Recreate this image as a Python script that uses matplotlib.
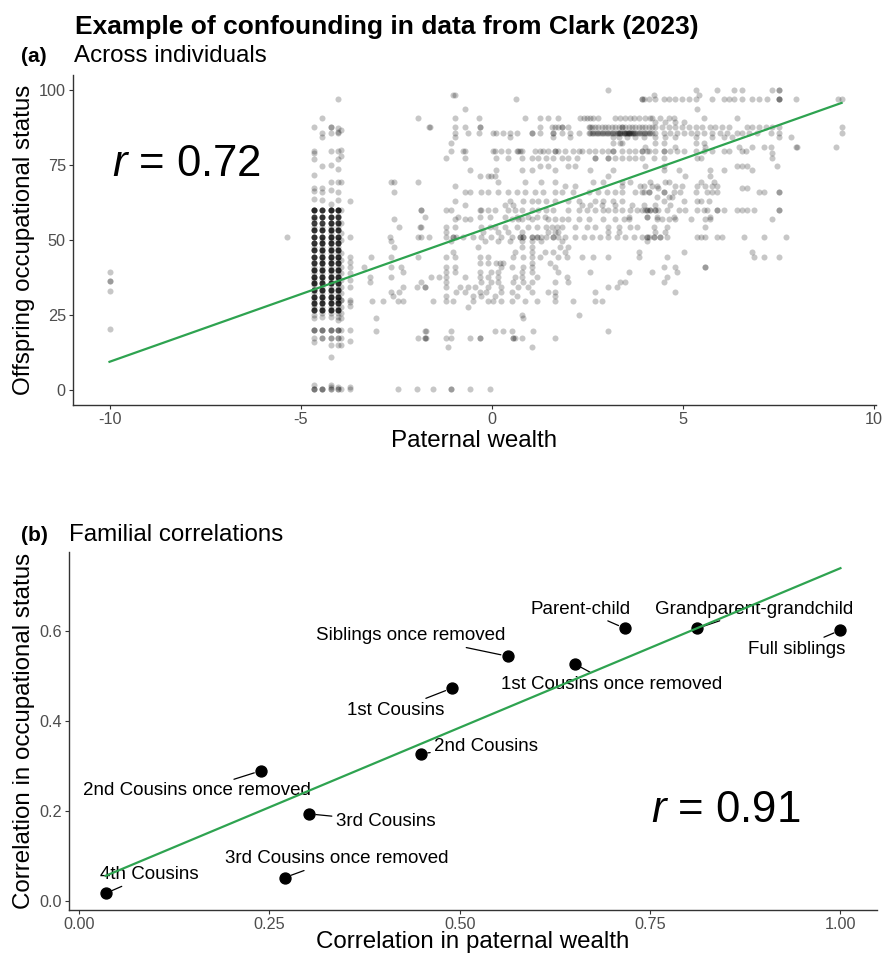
import numpy as np
import matplotlib
matplotlib.use('Agg')
import matplotlib.pyplot as plt

plt.rcParams['font.family'] = ['Liberation Sans', 'DejaVu Sans']
plt.rcParams['axes.unicode_minus'] = False
plt.rcParams['mathtext.fontset'] = 'custom'
plt.rcParams['mathtext.it'] = 'Liberation Sans:italic'
plt.rcParams['mathtext.rm'] = 'Liberation Sans'

# ---- (a) individuals: paternal wealth values, grouped by offspring status level ----
w100 = [3.05, 5.33, 5.90, 6.33, 6.55, 7.34, 7.51, 7.51]
w98 = [-1.02, -0.95, 4.23, 5.41]
w97 = [0.63, 3.93, 3.97, 3.93, 4.10, 4.28, 4.50, 4.63, 4.80, 4.98, 5.15, 5.33, 5.76, 6.07,
       6.20, 6.33, 6.55, 6.81, 6.99, 7.21, 7.51, 7.51, 7.51, 7.95, 9.05, 9.15]
w94 = [-0.71, 5.37]
w91 = [-1.93, -0.97, -0.34, 0.88, 1.26, 1.48, 1.72, 2.31, 2.40, 2.48, 2.57, 2.66, 2.79, 3.23,
       3.36, 3.49, 3.62, 3.71, 3.84, 4.01, 4.15, 4.19, 4.41, 4.63, 4.76, 5.55, 6.42]
w89 = [4.28, 4.54, 4.80, 5.02]
w88 = [-1.63, -1.61, -0.97, -0.71, -0.32, -0.32, 1.26, 1.57, 1.65, 1.74, 1.83, 1.83, 2.00,
       2.53, 2.57, 2.62, 2.70, 2.79, 2.88, 2.97, 3.05, 3.14, 3.23, 3.32, 3.40, 3.40, 3.49,
       3.58, 3.66, 3.75, 3.84, 3.93, 4.02, 4.10, 4.19, 4.28, 4.45, 4.63, 4.80, 4.98, 5.15,
       5.33, 5.50, 5.72, 5.85, 6.03, 6.20, 6.68, 6.81, 6.99, 7.16, 7.34, 7.51, 9.15]
w86 = [-0.97, -0.62, -0.34, 0.03, 0.12, 0.30, 0.47, 0.65, 1.04, 1.04, 1.26, 1.61, 1.61, 1.83,
       2.05, 2.27, 2.53, 2.57, 2.62, 2.66, 2.70, 2.75, 2.79, 2.83, 2.88, 2.92, 2.97, 3.01,
       3.05, 3.10, 3.14, 3.18, 3.23, 3.27, 3.32, 3.36, 3.40, 3.45, 3.49, 3.53, 3.58, 3.62,
       3.66, 3.71, 3.75, 3.80, 3.84, 3.88, 3.93, 3.97, 4.02, 4.06, 4.10, 4.15, 4.19, 3.30,
       3.35, 3.45, 3.50, 3.55, 3.60, 3.65, 3.70, 4.28, 4.50, 4.67, 4.85, 5.02, 5.20, 5.37,
       5.55, 5.76, 5.98, 6.16, 6.42, 6.55, 6.73, 6.94, 7.30, 7.51, 9.15]
w84 = [-0.97, 0.47, 1.61, 2.05, 3.18, 3.32, 3.53, 3.75, 3.97, 4.28, 4.54, 4.80, 5.33, 5.76,
       6.07, 6.29, 7.51, 7.82]
w82 = [-1.06, 3.18, 3.36, 3.40, 4.28, 4.50, 5.33, 5.55]
w81 = [4.01, 4.80, 5.59, 6.46, 6.81, 7.12, 7.30, 7.95, 7.99, 9.00]
w80 = [-1.06, -0.75, -0.71, 0.03, 0.08, 0.25, 0.43, 0.65, 0.69, 0.73, 0.78, 1.13, 1.26, 1.35,
       1.48, 1.65, 1.65, 1.74, 1.91, 2.13, 2.27, 2.35, 2.53, 2.70, 2.88, 3.05, 3.18, 3.18,
       3.40, 3.58, 3.75, 3.93, 4.10, 3.93, 4.06, 4.28, 4.50, 4.50, 4.67, 4.85, 5.02, 5.33,
       5.55, 5.76, 6.07, 6.20, 6.55, 6.64]
w79 = [7.34]
w77 = [-1.19, -0.71, 0.12, 0.43, 0.78, 1.04, 1.22, 1.43, 1.61, 1.83, 2.00, 2.22, 2.70, 2.70,
       3.05, 3.05, 3.23, 3.40, 3.58, 3.75, 3.93, 4.23, 4.50, 5.37, 5.46, 7.34]
w75 = [1.26, 1.48, 2.00, 2.18, 4.01, 4.50, 6.42, 6.55, 6.68, 7.47]
w73 = [-0.58, 0.12, 0.78, 1.04, 1.65, 2.57, 3.18, 4.50, 4.89, 5.72, 6.07, 6.81]
w71 = [-0.32, -0.10, -0.01, 0.08, 3.05, 5.06, 5.72]
w69 = [-2.63, -2.57, -1.93, 0.17, 0.87, 1.30, 1.65, 2.66, 2.92, 3.40, 3.62, 4.15, 4.54, 4.63,
       5.46, 5.81]
w68 = [-0.97, 1.91, 2.18, 3.40, 3.88, 3.97, 4.19, 4.32, 4.80, 4.98, 5.37, 5.59, 5.76, 5.90]
w67 = [4.36, 6.55, 6.68]
w66 = [-2.56, -0.71, -0.56, -0.27, -0.10, 0.17, 0.43, 0.65, 0.87, 1.13, 1.35, 1.65, 1.83,
       2.13, 2.53, 2.79, 3.01, 3.23, 3.40, 3.75, 3.97, 4.10, 3.93, 4.10, 4.50, 4.50, 4.76,
       4.93, 5.33, 5.63, 5.76, 5.90, 6.99, 7.12, 7.51, 7.51]
w64 = [4.32, 4.63, 4.71]
w63 = [-0.97, 0.47, 0.82, 1.04, 1.22, 1.43, 1.65, 2.00, 2.27, 2.70, 2.92, 3.18, 3.40, 4.50,
       5.02, 5.37, 5.46, 5.68]
w62 = [-0.71, 0.34, 0.56, 2.35, 2.57, 2.88, 3.23, 3.66, 3.97, 4.28, 4.67]
w60 = [-1.85, -1.85, -1.19, -1.06, -0.32, -0.27, -0.10, 0.08, 0.43, 0.60, 0.78, 1.04, 1.22,
       1.43, 1.61, 2.00, 2.27, 2.48, 2.70, 2.92, 3.05, 3.23, 3.40, 3.62, 3.80, 4.02, 4.15,
       3.93, 4.06, 4.06, 4.15, 4.28, 4.28, 4.36, 4.58, 4.89, 5.06, 5.37, 5.55, 5.63, 5.90,
       5.90, 6.07, 6.42, 6.55, 6.68, 6.86, 7.51, 7.51]
w58 = [-1.76, -0.88, -0.32, -0.05, 0.34, 0.65, 0.95, 1.17, 1.39, 3.58, 4.06, 4.06, 4.32, 4.76,
       5.72]
w57 = [-2.57, -0.97, -0.71, -0.56, 0.52, 0.69, 0.78, 1.04, 1.48, 1.65, 1.83, 2.00, 2.27, 2.53,
       2.92, 3.23, 3.45, 3.58, 4.32, 4.45, 4.63, 4.80, 5.20, 5.59, 5.72, 7.34]
w54 = [-2.42, -1.87, -1.85, -1.19, -0.97, -0.27, -0.05, 0.08, 0.34, 0.65, 0.95, 1.17, 1.43,
       1.57, 1.70, 1.83, 2.18, 2.48, 2.70, 3.05, 3.32, 3.62, 3.80, 4.23, 4.58, 5.59]
w53 = [-1.19, -0.23, 0.17, 0.43, 0.78, 1.48, 1.65, 1.74, 3.05, 3.32, 4.28, 4.54]
w51 = [-5.35, -2.65, -1.93, -1.85, -1.63, -1.19, -1.02, -1.02, -0.93, -0.75, -0.49, -0.27,
       -0.01, 0.25, 0.52, 0.73, 0.73, 0.82, 0.82, 1.04, 1.04, 1.17, 1.17, 1.30, 1.43, 1.61,
       1.61, 1.74, 1.91, 2.18, 2.40, 2.62, 2.83, 3.05, 3.27, 3.49, 3.71, 3.93, 4.10, 4.06,
       4.06, 4.23, 4.23, 4.41, 4.41, 4.58, 5.37, 5.46, 5.59, 5.90, 6.03, 6.60, 7.12, 7.69]
w50 = [-2.64, -1.06, -0.18, 0.17, 0.47, 0.78, 1.04, 1.30, 1.83, 4.06]
w48 = [-2.57, -0.36, 0.78, 1.04, 1.78, 2.00]
w46 = [-1.02, 0.60, 1.04, 1.39, 1.61, 1.91, 3.84, 5.02, 6.81]
w44 = [-3.16, -2.64, -1.93, -1.19, -0.97, -0.32, -0.10, 0.56, 0.82, 1.04, 1.26, 1.74, 1.96,
       2.35, 2.66, 3.05, 3.84, 4.58, 6.86, 7.12, 7.51]
w42 = [-0.32, -0.10, 0.12, 0.21, 0.30, 1.04, 1.52]
w41 = [-3.33, -2.64, -2.37, -1.19, -0.97, 0.25, 0.52, 0.82, 1.04, 1.65, 4.50, 4.80, 5.59, 5.59]
w39 = [-2.33, -1.19, -0.97, -0.32, -0.01, 0.17, 0.78, 1.04, 1.74, 2.57, 3.58, 4.19, 4.85]
w38 = [-3.18, -2.64, -1.58, -1.37, -1.19, -0.71, -0.32, -0.10, 0.17, 0.60, 0.78, 1.17, 1.96,
       4.58]
w36 = [-3.18, -1.85, -1.19, -0.27, -0.01, 0.17, 0.56, 0.82, 1.04, 1.65, 2.00, 3.36, 3.49, 4.50]
w34 = [-2.33, -1.95, -1.76, -1.74, -1.19, -0.84, -0.62, -0.45, -0.10, 0.25, 0.69, 0.95, 3.05,
       3.27]
w33 = [-2.64, -2.42, -0.93, -0.71, -0.32, -0.14, 0.25, 0.52, 1.04, 1.48, 1.65, 2.70, 4.80]
w31 = [-2.59, -1.19, -0.49, -0.27, 0.08, 0.65, 1.65]
w30 = [-3.14, -2.85, -2.46, -2.33, -1.54, -1.19, -1.02, -0.49, -0.10, 0.03, 0.25, 0.52, 0.87,
       1.17, 1.65, 2.13, 2.70, 2.88]
w28 = [-0.62]
w25 = [0.78, 2.27]
w24 = [-3.03, 0.82]
w20 = [-3.03, -1.74, -1.72, -1.06, 0.08, 0.30, 0.52, 1.09, 3.05]
w17 = [-1.93, -1.74, -1.74, -1.72, -1.19, -1.06, -0.56, -0.32, -0.32, 0.56, 0.56, 0.60, 0.78,
       1.65]
w14 = [-1.15, 1.04]
w0 = [-2.46, -1.95, -1.54, -1.06, -1.06, -0.56, -0.05]

status_levels = [100.0, 98.3, 97.0, 93.6, 90.6, 89.4, 87.8, 85.5, 84.4, 82.2, 81.1, 79.8, 79.1,
                 77.2, 74.8, 73.3, 71.4, 69.4, 68.0, 67.2, 66.1, 64.4, 63.1, 61.6, 60.0, 57.8,
                 56.9, 54.4, 52.8, 51.1, 49.5, 47.8, 46.1, 44.4, 42.2, 41.1, 39.4, 37.8, 36.1,
                 34.4, 32.7, 31.3, 29.7, 27.8, 25.0, 24.0, 19.8, 17.2, 14.4, 0.2]
wealth_rows = [w100, w98, w97, w94, w91, w89, w88, w86, w84, w82, w81, w80, w79, w77, w75,
               w73, w71, w69, w68, w67, w66, w64, w63, w62, w60, w58, w57, w54, w53, w51,
               w50, w48, w46, w44, w42, w41, w39, w38, w36, w34, w33, w31, w30, w28, w25,
               w24, w20, w17, w14, w0]

# low-wealth fathers sit in a few narrow columns of wealth
col_wealth = [-4.66, -4.43, -4.21, -4.02, -3.95, -3.70]
col_a = [87.6, 79.8, 78.9, 77.0, 71.7, 67.2, 66.3, 63.6, 60.0, 60.0, 56.9, 54.4, 53.3, 51.1,
         48.9, 47.8, 46.7, 44.4, 42.8, 41.1, 40.0, 38.9, 37.8, 36.7, 35.6, 35.0, 33.3, 32.2,
         31.1, 30.0, 28.7, 27.8, 26.7, 25.0, 23.9, 20.0, 20.0, 20.0, 17.2, 16.1, 1.7, 0.2,
         0.2, 0.2]
col_b = [90.5, 85.5, 84.4, 74.8, 67.2, 66.1, 63.3, 60.0, 57.8, 54.4, 53.3, 51.1, 50.0, 48.9,
         47.8, 46.7, 45.6, 44.4, 43.3, 42.2, 41.1, 40.0, 38.9, 37.8, 36.7, 35.6, 34.4, 33.3,
         32.2, 31.1, 30.0, 28.9, 27.8, 26.7, 25.6, 24.4, 20.0, 20.0, 20.0, 17.2, 17.2, 0.2,
         0.2, 0.2]
col_c = [87.8, 87.8, 85.5, 79.8, 75.0, 69.4, 66.7, 62.0, 60.0, 60.0, 57.8, 55.6, 54.4, 53.3,
         52.2, 51.1, 50.0, 48.9, 47.8, 46.7, 45.6, 44.4, 43.3, 42.2, 41.1, 40.0, 38.9, 37.8,
         36.7, 35.6, 34.4, 33.3, 32.2, 31.1, 30.0, 28.9, 27.8, 26.7, 25.6, 24.4, 20.0, 20.0,
         20.0, 17.2, 17.2, 15.0, 11.1, 1.7, 1.1, 0.2, 0.2]
col_d = [97.0, 87.2, 86.0, 85.5, 79.8, 77.0, 73.5, 69.4, 66.1, 63.3, 60.0, 60.0, 58.0, 56.0,
         54.4, 53.3, 51.1, 50.0, 48.9, 47.8, 46.7, 45.6, 44.4, 43.3, 42.2, 41.1, 40.0, 38.9,
         37.8, 36.7, 35.6, 34.4, 33.3, 32.2, 31.1, 30.0, 30.0, 28.9, 27.8, 26.7, 25.6, 24.4,
         23.3, 20.0, 20.0, 20.0, 17.2, 17.2, 15.0, 1.1, 0.2, 0.2]
col_e = [86.5, 80.0, 78.0, 69.4, 60.0, 55.6, 52.2, 50.0, 45.6, 43.3, 41.1, 38.9, 36.7, 34.4,
         32.2, 30.0, 30.0, 27.8, 25.6, 23.9, 20.0, 17.2, 15.0, 0.2]
col_f = [63.1, 51.1, 44.4, 42.8, 41.1, 39.1, 36.7, 34.4, 30.0, 29.4, 28.0, 20.0, 16.3, 1.1, 0.2]
col_status = [col_a, col_b, col_c, col_d, col_e, col_f]
# status values piled up (many fathers) in the first four columns
dense_status = [60.0, 57.8, 55.6, 53.3, 51.1, 48.9, 46.7, 44.4, 42.2, 40.0, 37.8, 35.6, 33.3,
                31.1, 28.9, 26.7]

far_left_wealth = -10.0
far_left_status = [39.4, 36.4, 36.4, 33.1, 20.3]

fit_a_x = [-10.0, 9.15]
fit_a_y = [9.4, 95.7]

# ---- (b) familial correlations ----
relations = ['4th Cousins', '3rd Cousins once removed', '3rd Cousins',
             '2nd Cousins once removed', '2nd Cousins', '1st Cousins',
             'Siblings once removed', '1st Cousins once removed', 'Parent-child',
             'Grandparent-grandchild', 'Full siblings']
corr_wealth = [0.035, 0.270, 0.302, 0.239, 0.449, 0.490, 0.563, 0.651, 0.717, 0.812, 1.000]
corr_occ = [0.016, 0.051, 0.193, 0.289, 0.327, 0.473, 0.544, 0.527, 0.606, 0.606, 0.602]
label_xy = [(0.092, 0.058), (0.338, 0.093), (0.403, 0.176), (0.155, 0.244), (0.535, 0.344),
            (0.416, 0.424), (0.436, 0.589), (0.700, 0.482), (0.659, 0.649), (0.887, 0.649),
            (0.942, 0.560)]
fit_b_x = [0.035, 1.0]
fit_b_y = [0.055, 0.740]

green = '#2ea350'
axis_col = '#333333'
tick_col = '#4d4d4d'


def style(ax):
    for s in ['top', 'right']:
        ax.spines[s].set_visible(False)
    for s in ['left', 'bottom']:
        ax.spines[s].set_color(axis_col)
        ax.spines[s].set_linewidth(1.0)
    ax.tick_params(length=2.7, width=0.8, color=axis_col, labelcolor=tick_col,
                   labelsize=11.7, pad=2.5)


fig = plt.figure(figsize=(8.84, 9.55), dpi=100)

# panel a
ax1 = fig.add_axes([73 / 884, 1 - 405 / 955, 803 / 884, 330 / 955])
for lev, row in zip(status_levels, wealth_rows):
    ax1.scatter(row, [lev] * len(row), s=19, color='black', alpha=0.22, linewidths=0)
for cx, cy in zip(col_wealth, col_status):
    ax1.scatter([cx] * len(cy), cy, s=19, color='black', alpha=0.22, linewidths=0)
for cx in col_wealth[:4]:
    ax1.scatter([cx] * len(dense_status), dense_status, s=19, color='black', alpha=0.75,
                linewidths=0)
ax1.scatter([far_left_wealth] * len(far_left_status), far_left_status, s=19, color='black',
            alpha=0.22, linewidths=0)
ax1.plot(fit_a_x, fit_a_y, color=green, lw=1.6, zorder=5)
ax1.text(-8.0, 75, r'$r$ = 0.72', fontsize=31.5, ha='center', va='center')
ax1.set_xlim(-10.955, 10.05)
ax1.set_ylim(-5, 105)
ax1.set_xticks([-10, -5, 0, 5, 10])
ax1.set_yticks([0, 25, 50, 75, 100])
style(ax1)
ax1.set_xlabel('Paternal wealth', fontsize=17.4, labelpad=2)
ax1.set_ylabel('Offspring occupational status', fontsize=17.4, labelpad=3)

# panel b
ax2 = fig.add_axes([69 / 884, 1 - 910 / 955, 808 / 884, 358 / 955])
ax2.plot(fit_b_x, fit_b_y, color=green, lw=1.6, zorder=5)
ax2.scatter(corr_wealth, corr_occ, s=62, color='black', zorder=4)
for name, wx, oc, (tx, ty) in zip(relations, corr_wealth, corr_occ, label_xy):
    ax2.annotate(name, xy=(wx, oc), xytext=(tx, ty), ha='center', va='center',
                 fontsize=13.5, zorder=3,
                 arrowprops=dict(arrowstyle='-', color='black', lw=0.9,
                                 shrinkA=1, shrinkB=5))
ax2.text(0.85, 0.2, r'$r$ = 0.91', fontsize=31.5, ha='center', va='center')
ax2.set_xlim(-0.013, 1.048)
ax2.set_ylim(-0.021, 0.776)
ax2.set_xticks([0, 0.25, 0.5, 0.75, 1.0])
ax2.set_xticklabels(['0.00', '0.25', '0.50', '0.75', '1.00'])
ax2.set_yticks([0, 0.2, 0.4, 0.6])
ax2.set_yticklabels(['0.0', '0.2', '0.4', '0.6'])
style(ax2)
ax2.set_xlabel('Correlation in paternal wealth', fontsize=17.4, labelpad=-1)
ax2.set_ylabel('Correlation in occupational status', fontsize=17.4, labelpad=3)

# titles
fig.text(75 / 884, 1 - 34 / 955, 'Example of confounding in data from Clark (2023)',
         fontsize=19, fontweight='bold', va='baseline')
fig.text(21 / 884, 1 - 62 / 955, '(a)', fontsize=15, fontweight='bold', va='baseline')
fig.text(74 / 884, 1 - 62 / 955, 'Across individuals', fontsize=17.4, va='baseline')
fig.text(21 / 884, 1 - 541 / 955, '(b)', fontsize=15, fontweight='bold', va='baseline')
fig.text(69 / 884, 1 - 541 / 955, 'Familial correlations', fontsize=17.4, va='baseline')

fig.savefig('out.png', dpi=100)
